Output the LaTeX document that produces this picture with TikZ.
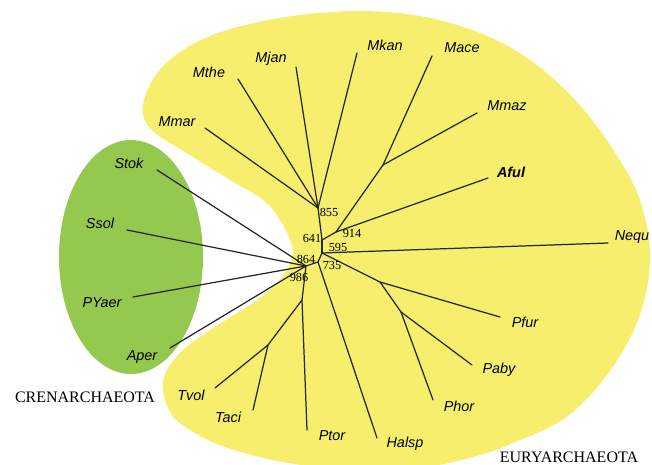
\documentclass[tikz,border=0pt]{standalone}
\usepackage{fontspec}
\setmainfont{Liberation Serif}
\newfontfamily\taxfont{Liberation Sans}
\usetikzlibrary{positioning}
\definecolor{euryyellow}{RGB}{246,238,108}
\definecolor{crengreen}{RGB}{149,200,79}

\begin{document}
\begin{tikzpicture}[x=0.02cm, y=-0.02cm, line cap=round, line join=round,
  taxon/.style={font=\taxfont\itshape\fontsize{8.2}{9}\selectfont, inner sep=0pt},
  boot/.style={font=\fontsize{7}{8}\selectfont, inner sep=0pt},
  group/.style={font=\fontsize{9.1}{10}\selectfont, inner sep=0pt},
  branch/.style={line width=0.7pt, black!85}]
  \useasboundingbox (0,0) rectangle (652,465);

  % ===== vung Euryarchaeota =====
  \fill[euryyellow] plot[smooth cycle, tension=0.6] coordinates {
    (293,255) (288,268) (275,285) (250,305) (210,330) (178,355) (163,382)
    (170,412) (190,430) (225,447) (283,462) (350,470) (420,468) (480,455)
    (513,443) (565,418) (607,375) (638,320) (650,260) (640,200) (612,148)
    (575,100) (530,60) (480,33) (420,16) (360,11) (300,15) (250,24)
    (210,36) (180,52) (158,72) (146,94) (143,115) (155,133) (185,152)
    (230,180) (263,200) (280,220) (290,240)};

  % ===== vung Crenarchaeota =====
  \fill[crengreen] (131,257) ellipse [x radius=1.44cm, y radius=2.34cm];

  % ===== nut trong =====
  \coordinate (n855) at (318,208);
  \coordinate (n641) at (322,240);
  \coordinate (n914) at (336,232);
  \coordinate (nMs) at (383,165);
  \coordinate (n595) at (322,253);
  \coordinate (nPy) at (380,282);
  \coordinate (nPh) at (401,312);
  \coordinate (n735) at (318,262);
  \coordinate (n864) at (306,266);
  \coordinate (nTh) at (302,300);
  \coordinate (nTv) at (268,345);

  % ===== dau mut cac la =====
  \coordinate (Mmar) at (205,128);
  \coordinate (Mthe) at (238,79);
  \coordinate (Mjan) at (296,67);
  \coordinate (Mkan) at (357,53);
  \coordinate (Mace) at (432,56);
  \coordinate (Mmaz) at (477,113);
  \coordinate (Aful) at (488,178);
  \coordinate (Nequ) at (608,243);
  \coordinate (Pfur) at (500,317);
  \coordinate (Paby) at (472,365);
  \coordinate (Phor) at (433,400);
  \coordinate (Halsp) at (377,438);
  \coordinate (Ptor) at (307,430);
  \coordinate (Taci) at (253,410);
  \coordinate (Tvol) at (215,388);
  \coordinate (Aper) at (170,348);
  \coordinate (PYaer) at (133,297);
  \coordinate (Ssol) at (127,230);
  \coordinate (Stok) at (157,170);

  % ===== cac nhanh =====
  \foreach \a/\b in {n855/Mmar, n855/Mthe, n855/Mjan, n855/Mkan, n641/n855,
      n641/n914, n914/nMs, nMs/Mace, nMs/Mmaz, n914/Aful, n641/n595,
      n595/Nequ, n595/nPy, nPy/Pfur, nPy/nPh, nPh/Paby, nPh/Phor,
      n595/n735, n735/Halsp, n735/n864, n864/nTh, nTh/Ptor, nTh/nTv,
      nTv/Taci, nTv/Tvol, n864/Aper, n864/PYaer, n864/Ssol, n864/Stok}{
    \draw[branch] (\a) -- (\b);
  }

  % ===== ten loai =====
  \node[taxon] (tMmar) at (177,122) {Mmar};
  \node[taxon] (tMthe) at (209,72) {Mthe};
  \node[taxon] (tMjan) at (271,59) {Mjan};
  \node[taxon] (tMkan) at (385,45) {Mkan};
  \node[taxon] (tMace) at (462,48) {Mace};
  \node[taxon] (tMmaz) at (507,106) {Mmaz};
  \node[taxon, font=\taxfont\bfseries\itshape\fontsize{8.2}{9}\selectfont] (tAful) at (511,172) {Aful};
  \node[taxon] (tNequ) at (632,237) {Nequ};
  \node[taxon] (tPfur) at (525,322) {Pfur};
  \node[taxon] (tPaby) at (499,370) {Paby};
  \node[taxon] (tPhor) at (459,406) {Phor};
  \node[taxon] (tHalsp) at (405,444) {Halsp};
  \node[taxon] (tPtor) at (332,436) {Ptor};
  \node[taxon] (tTaci) at (228,417) {Taci};
  \node[taxon] (tTvol) at (191,395) {Tvol};
  \node[taxon] (tAper) at (142,357) {Aper};
  \node[taxon] (tPYaer) at (102,303) {PYaer};
  \node[taxon] (tSsol) at (100,223) {Ssol};
  \node[taxon] (tStok) at (129,163) {Stok};

  % ===== gia tri bootstrap =====
  \node[boot] (b855) at (329,212) {855};
  \node[boot] (b641) at (312,238) {641};
  \node[boot] (b914) at (352,233) {914};
  \node[boot] (b595) at (338,247) {595};
  \node[boot] (b864) at (306,259) {864};
  \node[boot] (b735) at (332,265) {735};
  \node[boot] (b986) at (299,277) {986};

  % ===== ten nhom =====
  \node[group] (gCren) at (85,397) {CRENARCHAEOTA};
  \node[group] (gEury) at (569,457) {EURYARCHAEOTA};
\end{tikzpicture}
\end{document}
